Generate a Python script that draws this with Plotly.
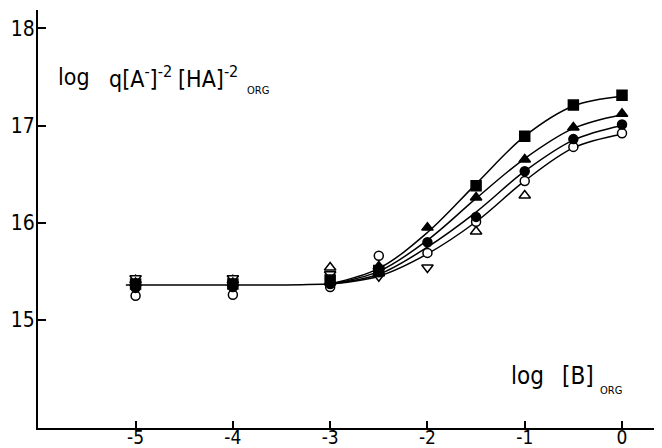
import plotly.graph_objects as go

# ---- data ----
x_ticks = [-5, -4, -3, -2, -1, 0]
x_tick_labels = ["-5", "-4", "-3", "-2", "-1", "0"]
y_ticks = [15, 16, 17, 18]
y_tick_labels = ["15", "16", "17", "18"]

# fitted curves (read at discrete x values, smoothed by spline)
curve_flat_x = [-5.1, -4.5, -4.0, -3.5, -3.0]
curve_flat_y = [15.36, 15.36, 15.36, 15.36, 15.37]
curve_x = [-3.0, -2.5, -2.0, -1.5, -1.0, -0.5, 0.0]
curve_sq_y = [15.37, 15.53, 15.90, 16.40, 16.89, 17.20, 17.30]
curve_tri_y = [15.37, 15.50, 15.82, 16.25, 16.66, 16.97, 17.11]
curve_dot_y = [15.37, 15.47, 15.75, 16.11, 16.53, 16.85, 17.00]
curve_circ_y = [15.37, 15.45, 15.68, 16.01, 16.43, 16.77, 16.91]

# measured points
sq_x = [-5, -4, -3, -2.5, -1.5, -1.0, -0.5, 0.0]
sq_y = [15.37, 15.37, 15.41, 15.51, 16.38, 16.89, 17.21, 17.31]
tri_x = [-5, -4, -3, -2.5, -2.0, -1.5, -1.0, -0.5, 0.0]
tri_y = [15.38, 15.38, 15.39, 15.55, 15.95, 16.26, 16.65, 16.98, 17.12]
dot_x = [-5, -4, -3, -2.5, -2.0, -1.5, -1.0, -0.5, 0.0]
dot_y = [15.33, 15.34, 15.37, 15.49, 15.80, 16.06, 16.53, 16.86, 17.01]
circ_x = [-5, -4, -3, -2.5, -2.0, -1.5, -1.0, -0.5, 0.0]
circ_y = [15.25, 15.26, 15.34, 15.66, 15.69, 16.01, 16.43, 16.78, 16.92]
otri_x = [-5, -4, -3, -2.5, -1.5, -1.0]
otri_y = [15.41, 15.41, 15.54, 15.48, 15.91, 16.28]
dtri_x = [-5, -4, -3, -2.5, -2.0]
dtri_y = [15.43, 15.43, 15.47, 15.45, 15.54]

FONT = "DejaVu Sans Condensed, Liberation Sans Narrow, DejaVu Sans, sans-serif"

fig = go.Figure()

line_style = dict(color="black", width=1.5, shape="spline")
fig.add_trace(go.Scatter(x=curve_flat_x, y=curve_flat_y, mode="lines", line=line_style, showlegend=False))
for cy in [curve_sq_y, curve_tri_y, curve_dot_y, curve_circ_y]:
    fig.add_trace(go.Scatter(x=curve_x, y=cy, mode="lines", line=line_style, showlegend=False))

def pts(x, y, symbol, fill, size=9):
    fig.add_trace(go.Scatter(
        x=x, y=y, mode="markers", showlegend=False,
        marker=dict(symbol=symbol, size=size, color=fill,
                    line=dict(color="black", width=1.5))))

pts(otri_x, otri_y, "triangle-up", "white", 10)
pts(dtri_x, dtri_y, "triangle-down", "white", 10)
pts(circ_x, circ_y, "circle", "white", 9)
pts(dot_x, dot_y, "circle", "black", 9)
pts(tri_x, tri_y, "triangle-up", "black", 10)
pts(sq_x, sq_y, "square", "black", 10)

# the page body adds an 8px offset; compensate so the chart fills 662x448
fig.update_layout(
    width=654, height=440,
    margin=dict(l=30, r=0, t=2, b=20, autoexpand=False),
    plot_bgcolor="white", paper_bgcolor="white",
    font=dict(family=FONT, size=21, color="black"),
    xaxis=dict(range=[-6.003, 0.411], showgrid=False, zeroline=False, automargin=False,
               showline=True, linecolor="black", linewidth=2,
               ticks="inside", ticklen=7, tickwidth=2, tickcolor="black",
               tickvals=x_ticks, ticktext=x_tick_labels, ticklabelstandoff=-9,
               tickfont=dict(family=FONT, size=19)),
    yaxis=dict(range=[13.889, 18.188], showgrid=False, zeroline=False, automargin=False,
               showline=True, linecolor="black", linewidth=2,
               ticks="inside", ticklen=8, tickwidth=2, tickcolor="black",
               tickvals=y_ticks, ticktext=y_tick_labels, ticklabelstandoff=-3,
               tickfont=dict(family=FONT, size=21)),
)

W, H, L, B = 624, 418, 38, 428

def ann(px, py, text, size):
    fig.add_annotation(xref="paper", yref="paper", x=(px - L) / W, y=(B - py) / H,
                       xanchor="left", yanchor="middle", showarrow=False,
                       text=text, font=dict(family=FONT, size=size))

# axis titles as annotations (pieces placed to match spacing)
ann(56, 77, "log", 23)
ann(107, 77, "q[A<sup>-</sup>]<sup>-2</sup>", 23)
ann(176, 77, "[HA]<sup>-2</sup>", 23)
ann(245, 90, "ORG", 11)
ann(509, 376, "log", 24)
ann(560, 376, "[B]", 24)
ann(598, 390, "ORG", 11)

fig.write_html("out.html")
